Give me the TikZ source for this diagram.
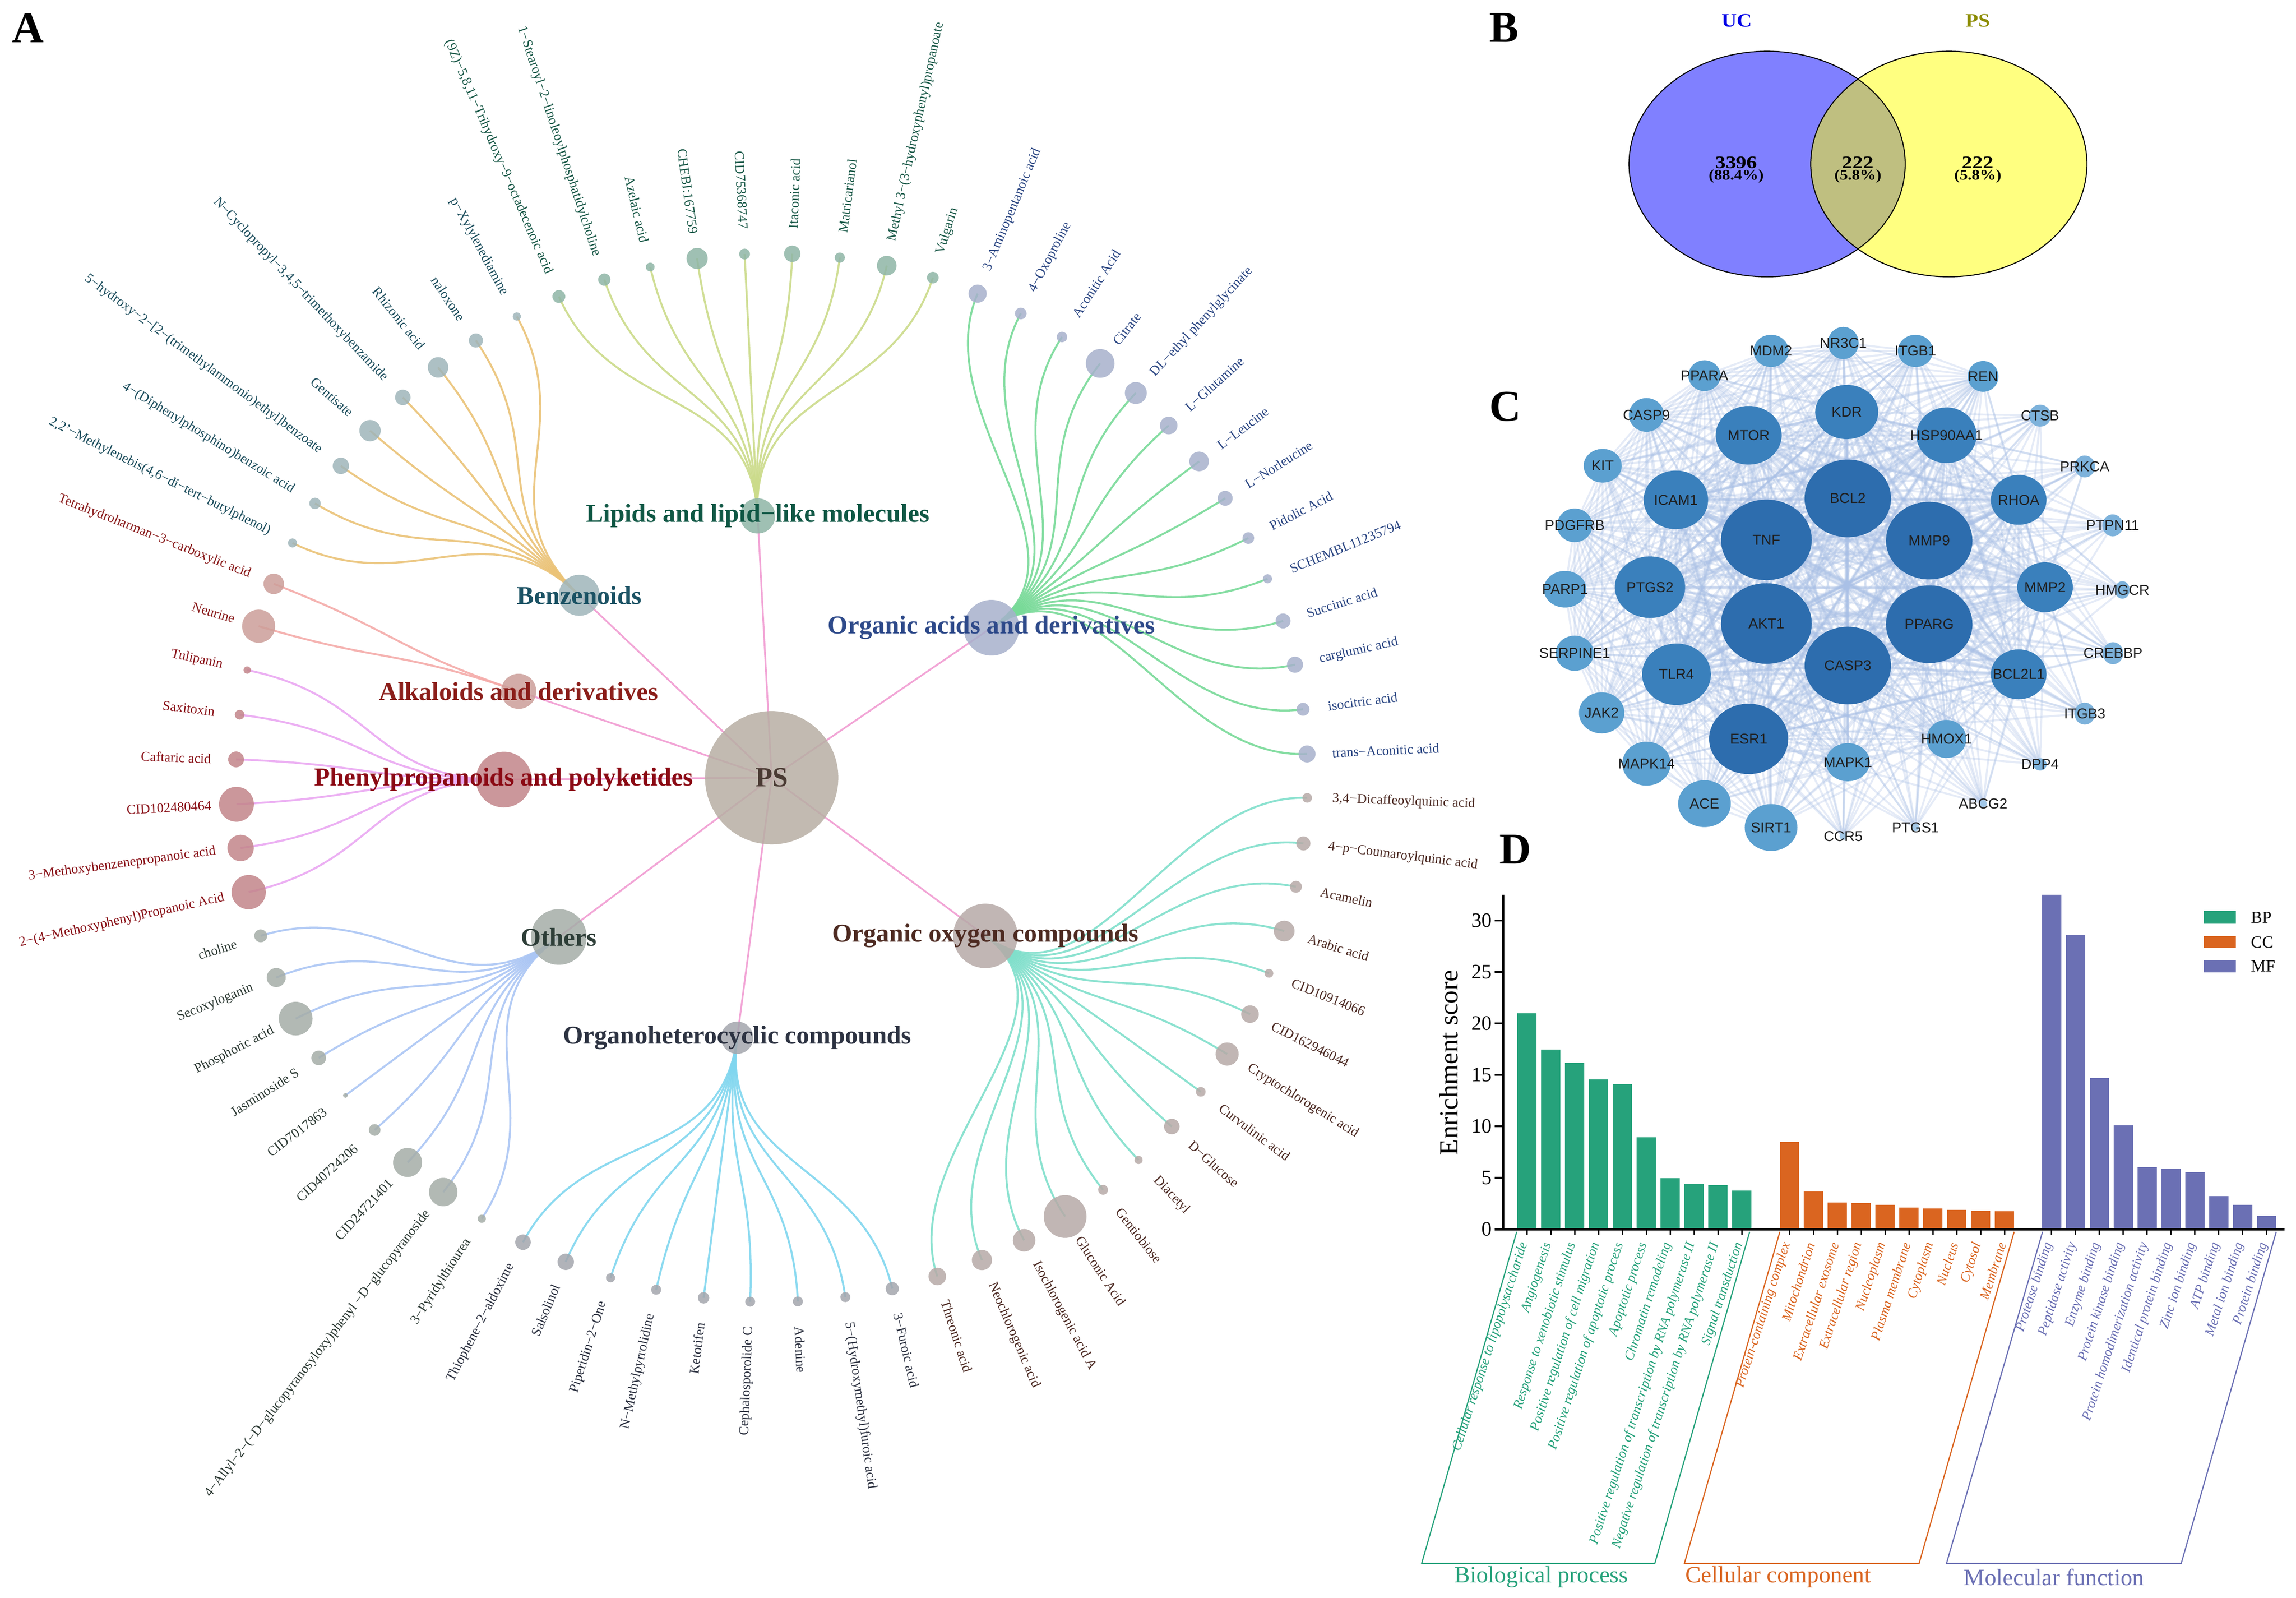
\documentclass[tikz,border=0pt]{standalone}
\usepackage{fontspec}
\usepackage{graphicx}
\setmainfont{Liberation Serif}
\newfontfamily\netfont{Liberation Sans}
\usetikzlibrary{shapes.geometric}
\pgfdeclarelayer{paper}
\pgfdeclarelayer{bg}
\pgfdeclarelayer{fg}
\pgfsetlayers{paper,bg,main,fg}
% ---------- colours ----------
\definecolor{PSfill}{HTML}{B8AFA4}
\definecolor{PSedge}{HTML}{F2A5D6}
\definecolor{PStext}{HTML}{4A3A33}
\definecolor{Lipfill}{HTML}{8FB6A6}\definecolor{Lipedge}{HTML}{CBDB8A}\definecolor{Liptext}{HTML}{1B5A49}\definecolor{Lipcat}{HTML}{0F5744}
\definecolor{Benfill}{HTML}{9FB5BA}\definecolor{Benedge}{HTML}{EBC377}\definecolor{Bentext}{HTML}{1E4F5E}\definecolor{Bencat}{HTML}{1B5264}
\definecolor{Oacfill}{HTML}{A7B1CC}\definecolor{Oacedge}{HTML}{78DA98}\definecolor{Oactext}{HTML}{2D4884}\definecolor{Oaccat}{HTML}{2E4A8A}
\definecolor{Alkfill}{HTML}{CC9E99}\definecolor{Alkedge}{HTML}{F5ABA9}\definecolor{Alktext}{HTML}{8A1C1C}\definecolor{Alkcat}{HTML}{8B1E1A}
\definecolor{Phefill}{HTML}{C3858A}\definecolor{Pheedge}{HTML}{EAA8F2}\definecolor{Phetext}{HTML}{8A1219}\definecolor{Phecat}{HTML}{8B0A14}
\definecolor{Othfill}{HTML}{A5ADA8}\definecolor{Othedge}{HTML}{ABC6F4}\definecolor{Othtext}{HTML}{2F3C36}\definecolor{Othcat}{HTML}{2E3E38}
\definecolor{Hetfill}{HTML}{A4A6AD}\definecolor{Hetedge}{HTML}{80D6EF}\definecolor{Hettext}{HTML}{2E3342}\definecolor{Hetcat}{HTML}{2D3342}
\definecolor{Oxyfill}{HTML}{B7AAA7}\definecolor{Oxyedge}{HTML}{80DFCB}\definecolor{Oxytext}{HTML}{4E2C25}\definecolor{Oxycat}{HTML}{4E2B22}
\definecolor{vennL}{HTML}{8080FF}\definecolor{vennR}{HTML}{FFFF80}\definecolor{vennM}{HTML}{BFBF80}
\definecolor{UCblue}{HTML}{0000E6}\definecolor{PSolive}{HTML}{8C8C00}
\definecolor{net1}{HTML}{2D6DAE}\definecolor{net2}{HTML}{3A80BC}\definecolor{net3}{HTML}{5BA0D0}
\definecolor{net4}{HTML}{7DB2DB}\definecolor{net5}{HTML}{A3C8E8}\definecolor{NetEdgeCol}{HTML}{A9C0E6}
\definecolor{BPc}{HTML}{26A27B}\definecolor{CCc}{HTML}{DA6520}\definecolor{MFc}{HTML}{6B70B4}
% ---------- styles ----------
\tikzset{
  ldot/.style={circle, inner sep=0pt, outer sep=0pt, draw=none, fill opacity=0.85},
  lbl/.style={inner sep=1pt, font=\fontsize{9.3}{9.3}\selectfont},
  leafedge/.style={line width=1.35pt, draw opacity=0.9},
  catlbl/.style={inner sep=0pt, font=\bfseries\fontsize{17.6}{17.6}\selectfont},
  psedge/.style={line width=1.2pt, draw=PSedge},
  panel/.style={inner sep=0pt, font=\bfseries\fontsize{30}{30}\selectfont},
  gnode/.style={ellipse, inner sep=0pt, outer sep=0pt, draw=none},
  gtext/.style={inner sep=0pt, font=\netfont\fontsize{9.8}{9.8}\selectfont, text=black!88},
  netedge/.style={line width=1.3pt, draw=NetEdgeCol, draw opacity=0.3},
  netedgeB/.style={line width=2.4pt, draw=NetEdgeCol, draw opacity=0.18},
  vennline/.style={draw=black, line width=0.7pt},
  vnum/.style={inner sep=0pt, font=\bfseries\fontsize{12}{12}\selectfont},
  vpct/.style={inner sep=0pt, font=\bfseries\fontsize{10}{10}\selectfont},
  axisline/.style={line width=1.4pt, draw=black},
  ticklbl/.style={inner sep=0pt, font=\fontsize{14}{14}\selectfont, anchor=east},
  barlbl/.style={inner sep=0.5pt, rotate=72, anchor=east, font=\itshape\fontsize{9.3}{9.3}\selectfont},
  grplbl/.style={inner sep=0pt, font=\fontsize{16}{16}\selectfont},
  bracket/.style={line width=0.8pt},
}
% #1 cat prefix, #2 cat angle, #3 id, #4 angle, #5 radius, #6 label
\newcommand\leafnode[6]{%
  \node[ldot, fill=#1fill, minimum size={2*#5pt}] (#3) at (#4:366 and 358) {};%
  \begin{pgfonlayer}{bg}%
    \draw[leafedge, draw=#1edge] (#1.center) .. controls (#2:274.5 and 268.5) and (#4:274.5 and 268.5) .. (#3.center);%
  \end{pgfonlayer}%
  \pgfmathtruncatemacro\lfside{cos(#4)>0}%
  \ifnum\lfside=1
    \node[lbl, text=#1text, rotate=#4, anchor=west] (#3t) at (#4:382 and 374) {#6};%
  \else
    \pgfmathsetmacro\lfrot{#4-180}%
    \node[lbl, text=#1text, rotate=\lfrot, anchor=east] (#3t) at (#4:382 and 374) {#6};%
  \fi
}
% network node: name, x, Y, w, h, level
\newcommand\gn[6]{%
  \node[gnode, fill=net#6, minimum width=#4pt, minimum height=#5pt] (#1) at (#2,#3) {};%
  \begin{pgfonlayer}{fg}\node[gtext] (#1t) at (#1) {#1};\end{pgfonlayer}%
}
\begin{document}
\begin{tikzpicture}[x=1pt,y=1pt]
\useasboundingbox (0,0) rectangle (1568,1091);
\begin{pgfonlayer}{paper}\fill[white] (0,0) rectangle (1568,1091);\end{pgfonlayer}

% ================= Panel A =================
\node[panel] (pA) at (19,1072) {A};
\begin{scope}[shift={(527,560)}]
\node[ldot, fill=PSfill, minimum size=91pt] (PS) at (0,0) {};
\node[ldot, fill=Lipfill, minimum size=24pt] (Lip) at (93:183 and 179) {};
\node[ldot, fill=Benfill, minimum size=28pt] (Ben) at (135.9:183 and 179) {};
\node[ldot, fill=Oacfill, minimum size=38pt] (Oac) at (34.9:183 and 179) {};
\node[ldot, fill=Alkfill, minimum size=24pt] (Alk) at (160.75:183 and 179) {};
\node[ldot, fill=Phefill, minimum size=38pt] (Phe) at (180.4:183 and 179) {};
\node[ldot, fill=Othfill, minimum size=38pt] (Oth) at (217.4:183 and 179) {};
\node[ldot, fill=Oxyfill, minimum size=44pt] (Oxy) at (-37.1:183 and 179) {};
\node[ldot, fill=Hetfill, minimum size=22pt] (Het) at (-97.4:183 and 179) {};
\begin{pgfonlayer}{bg}
\foreach \c in {Lip,Ben,Oac,Alk,Phe,Oth,Oxy,Het} \draw[psedge] (PS.center) -- (\c.center);
\end{pgfonlayer}
% Lipids
\leafnode{Lip}{93}{a1}{113.4}{4.4}{(9Z)−5,8,11−Trihydroxy−9−octadecenoic acid}
\leafnode{Lip}{93}{a2}{108.2}{4.2}{1−Stearoyl−2−linoleoylphosphatidylcholine}
\leafnode{Lip}{93}{a3}{103.1}{3.0}{Azelaic acid}
\leafnode{Lip}{93}{a4}{98.0}{7.2}{CHEBI:167759}
\leafnode{Lip}{93}{a5}{92.9}{3.7}{CID75368747}
\leafnode{Lip}{93}{a6}{87.8}{5.6}{Itaconic acid}
\leafnode{Lip}{93}{a7}{82.7}{3.5}{Matricarianol}
\leafnode{Lip}{93}{a8}{77.6}{6.7}{Methyl 3−(3−hydroxyphenyl)propanoate}
\leafnode{Lip}{93}{a9}{72.5}{4.0}{Vulgarin}
% Organic acids
\leafnode{Oac}{34.9}{b1}{67.4}{6.2}{3−Aminopentanoic acid}
\leafnode{Oac}{34.9}{b2}{62.3}{4.0}{4−Oxoproline}
\leafnode{Oac}{34.9}{b3}{57.2}{3.6}{Aconitic Acid}
\leafnode{Oac}{34.9}{b4}{52.2}{9.8}{Citrate}
\leafnode{Oac}{34.9}{b5}{47.2}{7.5}{DL−ethyl phenylglycinate}
\leafnode{Oac}{34.9}{b6}{42.2}{6.0}{L−Glutamine}
\leafnode{Oac}{34.9}{b7}{37.1}{6.7}{L−Leucine}
\leafnode{Oac}{34.9}{b8}{32.2}{5.1}{L−Norleucine}
\leafnode{Oac}{34.9}{b9}{27.2}{4.0}{Pidolic Acid}
\leafnode{Oac}{34.9}{b10}{22.3}{3.1}{SCHEMBL11235794}
\leafnode{Oac}{34.9}{b11}{17.4}{5.1}{Succinic acid}
\leafnode{Oac}{34.9}{b12}{12.45}{5.5}{carglumic acid}
\leafnode{Oac}{34.9}{b13}{7.5}{4.4}{isocitric acid}
\leafnode{Oac}{34.9}{b14}{2.6}{5.8}{trans−Aconitic acid}
% Organic oxygen
\leafnode{Oxy}{-37.1}{c1}{-2.2}{3.3}{3,4−Dicaffeoylquinic acid}
\leafnode{Oxy}{-37.1}{c2}{-7.2}{4.8}{4−p−Coumaroylquinic acid}
\leafnode{Oxy}{-37.1}{c3}{-12.0}{4.1}{Acamelin}
\leafnode{Oxy}{-37.1}{c4}{-17.0}{7.1}{Arabic acid}
\leafnode{Oxy}{-37.1}{c5}{-21.9}{3.0}{CID10914066}
\leafnode{Oxy}{-37.1}{c6}{-26.8}{6.0}{CID162946044}
\leafnode{Oxy}{-37.1}{c7}{-31.8}{7.9}{Cryptochlorogenic acid}
\leafnode{Oxy}{-37.1}{c8}{-36.8}{3.3}{Curvulinic acid}
\leafnode{Oxy}{-37.1}{c9}{-41.7}{5.3}{D−Glucose}
\leafnode{Oxy}{-37.1}{c10}{-46.8}{2.8}{Diacetyl}
\leafnode{Oxy}{-37.1}{c11}{-51.8}{3.4}{Gentiobiose}
\leafnode{Oxy}{-37.1}{c12}{-56.8}{14.6}{Gluconic Acid}
\leafnode{Oxy}{-37.1}{c13}{-61.9}{7.7}{Isochlorogenic acid A}
\leafnode{Oxy}{-37.1}{c14}{-66.9}{6.9}{Neochlorogenic acid}
\leafnode{Oxy}{-37.1}{c15}{-72.0}{6.0}{Threonic acid}
% Organoheterocyclic
\leafnode{Het}{-97.4}{d1}{-77.0}{4.5}{3−Furoic acid}
\leafnode{Het}{-97.4}{d2}{-82.1}{3.4}{5−(Hydroxymethyl)furoic acid}
\leafnode{Het}{-97.4}{d3}{-87.2}{3.4}{Adenine}
\leafnode{Het}{-97.4}{d4}{-92.3}{3.4}{Cephalosporolide C}
\leafnode{Het}{-97.4}{d5}{-97.3}{3.9}{Ketotifen}
\leafnode{Het}{-97.4}{d6}{-102.45}{3.4}{N−Methylpyrrolidine}
\leafnode{Het}{-97.4}{d7}{-107.5}{3.1}{Piperidin−2−One}
\leafnode{Het}{-97.4}{d8}{-112.6}{5.6}{Salsolinol}
\leafnode{Het}{-97.4}{d9}{-117.65}{5.3}{Thiophene−2−aldoxime}
% Others
\leafnode{Oth}{217.4}{e1}{237.25}{2.8}{3−Pyridylthiourea}
\leafnode{Oth}{217.4}{e2}{232.2}{9.7}{4−Allyl−2−(−D−glucopyranosyloxy)phenyl −D−glucopyranoside}
\leafnode{Oth}{217.4}{e3}{227.2}{9.9}{CID24721401}
\leafnode{Oth}{217.4}{e4}{222.2}{4.0}{CID40724206}
\leafnode{Oth}{217.4}{e5}{217.3}{1.6}{CID7017863}
\leafnode{Oth}{217.4}{e6}{212.3}{5.0}{Jasminoside S}
\leafnode{Oth}{217.4}{e7}{207.35}{11.5}{Phosphoric acid}
\leafnode{Oth}{217.4}{e8}{202.4}{6.5}{Secoxyloganin}
\leafnode{Oth}{217.4}{e9}{197.55}{4.4}{choline}
% Phenylpropanoids
\leafnode{Phe}{180.4}{f1}{192.6}{11.7}{2−(4−Methoxyphenyl)Propanoic Acid}
\leafnode{Phe}{180.4}{f2}{187.7}{9.0}{3−Methoxybenzenepropanoic acid}
\leafnode{Phe}{180.4}{f3}{182.9}{11.9}{CID102480464}
\leafnode{Phe}{180.4}{f4}{178.0}{5.4}{Caftaric acid}
\leafnode{Phe}{180.4}{f5}{173.1}{3.3}{Saxitoxin}
\leafnode{Phe}{180.4}{f6}{168.15}{2.5}{Tulipanin}
% Alkaloids
\leafnode{Alk}{160.75}{g1}{163.2}{11.3}{Neurine}
\leafnode{Alk}{160.75}{g2}{158.3}{7.0}{Tetrahydroharman−3−carboxylic acid}
% Benzenoids
\leafnode{Ben}{135.9}{h1}{153.4}{3.1}{2,2'−Methylenebis(4,6−di−tert−butylphenol)}
\leafnode{Ben}{135.9}{h2}{148.45}{3.9}{4−(Diphenylphosphino)benzoic acid}
\leafnode{Ben}{135.9}{h3}{143.5}{5.6}{5−hydroxy−2−[2−(trimethylammonio)ethyl]benzoate}
\leafnode{Ben}{135.9}{h4}{138.55}{7.3}{Gentisate}
\leafnode{Ben}{135.9}{h5}{133.5}{5.3}{N−Cyclopropyl−3,4,5−trimethoxybenzamide}
\leafnode{Ben}{135.9}{h6}{128.5}{7.0}{Rhizonic acid}
\leafnode{Ben}{135.9}{h7}{123.5}{4.8}{naloxone}
\leafnode{Ben}{135.9}{h8}{118.4}{2.8}{p−Xylylenediamine}
% category labels
\begin{pgfonlayer}{fg}
\node[inner sep=0pt, font=\bfseries\fontsize{19}{19}\selectfont, text=PStext] (PSt) at (PS) {PS};
\node[catlbl, text=Lipcat] (LipT) at (Lip) {Lipids and lipid−like molecules};
\node[catlbl, text=Bencat] (BenT) at (Ben) {Benzenoids};
\node[catlbl, text=Oaccat] (OacT) at (Oac) {Organic acids and derivatives};
\node[catlbl, text=Alkcat] (AlkT) at (Alk) {Alkaloids and derivatives};
\node[catlbl, text=Phecat] (PheT) at (Phe) {Phenylpropanoids and polyketides};
\node[catlbl, text=Othcat] (OthT) at (Oth) {Others};
\node[catlbl, text=Oxycat] (OxyT) at (Oxy) {Organic oxygen compounds};
\node[catlbl, text=Hetcat] (HetT) at (Het) {Organoheterocyclic compounds};
\end{pgfonlayer}
\end{scope}

% ================= Panel B =================
\node[panel] (pB) at (1027,1072) {B};
\fill[vennL] (1206.8,979) ellipse [x radius=94.3, y radius=77];
\fill[vennR] (1330.9,979) ellipse [x radius=94.3, y radius=77];
\begin{scope}
\clip (1206.8,979) ellipse [x radius=94.3, y radius=77];
\fill[vennM] (1330.9,979) ellipse [x radius=94.3, y radius=77];
\end{scope}
\draw[vennline] (1206.8,979) ellipse [x radius=94.3, y radius=77];
\draw[vennline] (1330.9,979) ellipse [x radius=94.3, y radius=77];
\node[inner sep=0pt, font=\bfseries\fontsize{13}{13}\selectfont, text=UCblue] (uc) at (1186.2,1076.9) {\scalebox{1.1}[1]{UC}};
\node[inner sep=0pt, font=\bfseries\fontsize{13}{13}\selectfont, text=PSolive] (ps) at (1350.7,1076.9) {\scalebox{1.1}[1]{PS}};
\node[vnum] (v1) at (1185.7,979.9) {\scalebox{1.2}[1]{3396}};
\node[vpct] (q1) at (1185.7,970.6) {\scalebox{1.1}[1]{(88.4\%)}};
\node[vnum] (v2) at (1268.8,979.9) {\scalebox{1.2}[1]{222}};
\node[vpct] (q2) at (1268.8,970.6) {\scalebox{1.1}[1]{(5.8\%)}};
\node[vnum] (v3) at (1350.7,979.9) {\scalebox{1.2}[1]{222}};
\node[vpct] (q3) at (1350.7,970.6) {\scalebox{1.1}[1]{(5.8\%)}};

% ================= Panel C =================
\node[panel] (pC) at (1028,813.5) {C};
\gn{NR3C1}{1258.8}{856.8}{21}{22}{3}
\gn{MDM2}{1209.5}{851.4}{24}{22}{3}
\gn{ITGB1}{1308.1}{851.4}{24}{22}{3}
\gn{PPARA}{1164}{834.5}{22}{21}{3}
\gn{REN}{1354.3}{834}{21}{21}{3}
\gn{CASP9}{1124.4}{807.7}{24}{23}{3}
\gn{CTSB}{1393.2}{807.2}{15}{15}{4}
\gn{KDR}{1261.2}{809.7}{43}{37}{2}
\gn{MTOR}{1194.2}{793.8}{45}{40}{2}
\gn{HSP90AA1}{1329.3}{793.8}{41}{38}{2}
\gn{KIT}{1094.5}{773}{26}{23}{3}
\gn{PRKCA}{1423.7}{772.5}{14}{15}{4}
\gn{BCL2}{1261.9}{750.7}{59}{53}{1}
\gn{ICAM1}{1144.5}{749.7}{44}{40}{2}
\gn{RHOA}{1378.6}{749.7}{38}{34}{2}
\gn{PDGFRB}{1075.4}{732.3}{24}{23}{3}
\gn{PTPN11}{1442.8}{732.3}{14}{15}{4}
\gn{TNF}{1206.3}{722.4}{62}{55}{1}
\gn{MMP9}{1317.5}{721.9}{59}{53}{1}
\gn{PARP1}{1068.8}{688.7}{29}{25}{3}
\gn{PTGS2}{1126.8}{690.1}{48}{42}{2}
\gn{MMP2}{1396.6}{690.1}{38}{34}{2}
\gn{HMGCR}{1449.4}{688.2}{10}{12}{4}
\gn{AKT1}{1206.3}{665.3}{62}{55}{1}
\gn{PPARG}{1317.5}{664.8}{59}{53}{1}
\gn{SERPINE1}{1075.4}{645}{26}{24}{3}
\gn{CASP3}{1261.9}{636.6}{59}{53}{1}
\gn{CREBBP}{1443}{645}{14}{15}{4}
\gn{TLR4}{1144.9}{630.6}{47}{42}{2}
\gn{BCL2L1}{1378.6}{630.6}{38}{34}{2}
\gn{JAK2}{1093.8}{604.3}{31}{28}{3}
\gn{ITGB3}{1423.7}{603.8}{14}{15}{4}
\gn{ESR1}{1194.2}{586.5}{54}{48}{1}
\gn{HMOX1}{1329.3}{586.5}{27}{26}{3}
\gn{MAPK14}{1124.4}{569.6}{33}{30}{3}
\gn{MAPK1}{1261.9}{570.6}{30}{26}{3}
\gn{DPP4}{1393.2}{569.1}{9}{8.4}{4}
\gn{ACE}{1164}{542.3}{36}{32}{3}
\gn{ABCG2}{1354.3}{542.3}{5}{5}{5}
\gn{SIRT1}{1209.5}{526}{36}{32}{3}
\gn{CCR5}{1258.8}{520}{5}{5}{5}
\gn{PTGS1}{1308.1}{526}{5}{5}{5}
\def\netAB{TNF,AKT1,BCL2,MMP9,PPARG,CASP3,ESR1,MTOR,KDR,HSP90AA1,ICAM1,PTGS2,TLR4,RHOA,MMP2,BCL2L1,NR3C1,MDM2,ITGB1,PPARA,REN,CASP9,KIT,PDGFRB,PARP1,SERPINE1,JAK2,MAPK14,ACE,SIRT1,MAPK1,HMOX1}
\def\netA{TNF,AKT1,BCL2,MMP9,PPARG,CASP3,ESR1,MTOR,KDR,HSP90AA1,ICAM1,PTGS2,TLR4,RHOA,MMP2,BCL2L1}
\def\netC{CTSB,PRKCA,PTPN11,HMGCR,CREBBP,ITGB3,DPP4,ABCG2,CCR5,PTGS1}
\begin{pgfonlayer}{bg}
\foreach \a [count=\i] in \netAB {
  \foreach \b [count=\j] in \netAB {
    \ifnum\j>\i \draw[netedge] (\a.center) -- (\b.center); \fi
  }
}
\foreach \a [count=\i] in \netA {
  \foreach \b [count=\j] in \netA {
    \ifnum\j>\i \draw[netedgeB] (\a.center) -- (\b.center); \fi
  }
}
\foreach \a in \netC {\foreach \b in \netA {\draw[netedge] (\a.center) -- (\b.center);}}
\end{pgfonlayer}

% ================= Panel D =================
\node[panel] (pD) at (1035,511) {D};
% bars
\foreach \v [count=\k from 0] in {21.0,17.48,16.15,14.55,14.12,8.93,4.96,4.39,4.30,3.78}
  {\pgfmathsetmacro\cx{1042.8+16.31*\k}\fill[BPc] (\cx-6.6,251.7) rectangle (\cx+6.6,251.7+7.027*\v);
   \draw[line width=0.9pt] (\cx,251.7) -- (\cx,248);}
\foreach \v [count=\k from 0] in {8.5,3.68,2.6,2.55,2.4,2.13,2.03,1.89,1.8,1.75}
  {\pgfmathsetmacro\cx{1222.1+16.31*\k}\fill[CCc] (\cx-6.6,251.7) rectangle (\cx+6.6,251.7+7.027*\v);
   \draw[line width=0.9pt] (\cx,251.7) -- (\cx,248);}
\foreach \v [count=\k from 0] in {32.5,28.6,14.7,10.1,6.05,5.86,5.57,3.21,2.36,1.32}
  {\pgfmathsetmacro\cx{1401.1+16.31*\k}\fill[MFc] (\cx-6.6,251.7) rectangle (\cx+6.6,251.7+7.027*\v);
   \draw[line width=0.9pt] (\cx,251.7) -- (\cx,248);}
% axes
\draw[axisline] (1026.5,480.1) -- (1026.5,251.7) -- (1560,251.7);
\foreach \v in {0,5,...,30} {
  \draw[axisline] (1020.7,251.7+7.027*\v) -- (1026.5,251.7+7.027*\v);
  \node[ticklbl] (yt\v) at (1019,251.7+7.027*\v) {\v};
}
\node[inner sep=0pt, rotate=90, font=\fontsize{18}{18}\selectfont] (ylab) at (989.4,365.5) {Enrichment score};
% bar labels
\foreach \t [count=\k from 0] in {Cellular response to lipopolysaccharide,Angiogenesis,Response to xenobiotic stimulus,Positive regulation of cell migration,Positive regulation of apoptotic process,Apoptotic process,Chromatin remodeling,Positive regulation of transcription by RNA polymerase II,Negative regulation of transcription by RNA polymerase II,Signal transduction}
  {\pgfmathsetmacro\cx{1042.8+16.31*\k}\node[barlbl, text=BPc] (bpl\k) at (\cx-1.5,243) {\t};}
\foreach \t [count=\k from 0] in {Protein-containing complex,Mitochondrion,Extracellular exosome,Extracellular region,Nucleoplasm,Plasma membrane,Cytoplasm,Nucleus,Cytosol,Membrane}
  {\pgfmathsetmacro\cx{1222.1+16.31*\k}\node[barlbl, text=CCc] (ccl\k) at (\cx-1.5,243) {\t};}
\foreach \t [count=\k from 0] in {Protease binding,Peptidase activity,Enzyme binding,Protein kinase binding,Protein homodimerization activity,Identical protein binding,Zinc ion binding,ATP binding,Metal ion binding,Protein binding}
  {\pgfmathsetmacro\cx{1401.1+16.31*\k}\node[barlbl, text=MFc] (mfl\k) at (\cx-1.5,243) {\t};}
% brackets
\draw[bracket, BPc] (1035.8,250) -- (970.9,23.6) -- (1130.1,23.6) -- (1194.9,250);
\draw[bracket, CCc] (1215.5,250) -- (1150.3,23.6) -- (1310.6,23.6) -- (1375.5,250);
\draw[bracket, MFc] (1394.9,250) -- (1329.3,23.6) -- (1489.6,23.6) -- (1554.5,250);
\node[grplbl, text=BPc] (g1) at (1052.5,14.3) {Biological process};
\node[grplbl, text=CCc] (g2) at (1214.4,14.3) {Cellular component};
\node[grplbl, text=MFc] (g3) at (1402.7,14.3) {Molecular function};
% legend
\fill[BPc] (1504.8,460.2) rectangle (1526.9,469.1);
\fill[CCc] (1504.8,443.6) rectangle (1526.9,451.9);
\fill[MFc] (1504.8,427.0) rectangle (1526.9,435.6);
\node[inner sep=0pt, anchor=west, font=\fontsize{11.5}{11.5}\selectfont] (lg1) at (1537,464.6) {BP};
\node[inner sep=0pt, anchor=west, font=\fontsize{11.5}{11.5}\selectfont] (lg2) at (1537,447.7) {CC};
\node[inner sep=0pt, anchor=west, font=\fontsize{11.5}{11.5}\selectfont] (lg3) at (1537,431.3) {MF};
\end{tikzpicture}
\end{document}
